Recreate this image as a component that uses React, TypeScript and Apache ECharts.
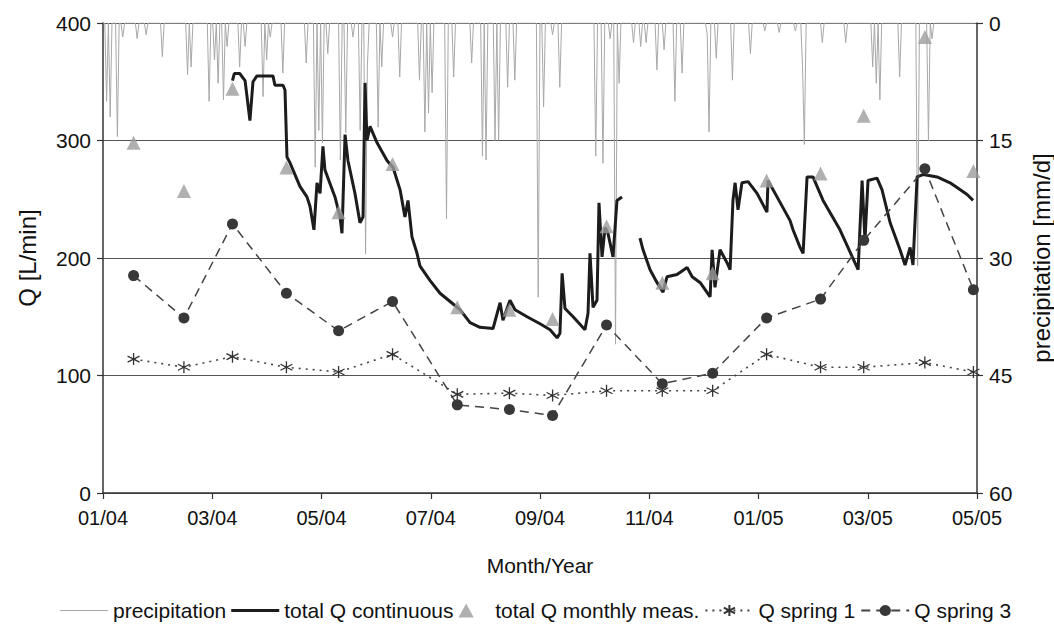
import React, { useEffect, useRef } from 'react';
import * as echarts from 'echarts';

// x values are days counted from 01 Jan 2004; the axis spans 16 months (01/04 .. 05/05)
const DAYS_TOTAL = 486;
const TICK_STEP = DAYS_TOTAL / 8;
const TICK_LABELS = ['01/04', '03/04', '05/04', '07/04', '09/04', '11/04', '01/05', '03/05', '05/05'];

// daily precipitation [mm/d]: days with rain (all other days 0)
const RAIN_DAY = [2, 4, 8, 11, 19, 24, 33, 47, 49, 59, 62, 64, 67, 69, 76, 79, 89, 91, 93, 100, 113, 118, 120, 122, 125, 132, 135, 139, 143, 146, 147, 153, 155, 161, 165, 176, 179, 181, 183, 191, 195, 205, 211, 213, 218, 220, 225, 229, 242, 245, 250, 254, 274, 278, 282, 285, 287, 295, 299, 302, 308, 312, 318, 322, 336, 337, 341, 350, 360, 368, 376, 385, 389, 390, 400, 413, 428, 430, 432, 443, 453, 459, 461];
const RAIN_MM = [10, 12, 14.5, 1.8, 2, 1.5, 4.3, 6.6, 5.6, 10, 4.7, 7.7, 9.8, 3, 5.6, 3, 9.4, 4.7, 1.8, 6.4, 5.1, 18.4, 13.7, 15.3, 3.9, 17.5, 14, 1.8, 13.7, 29.5, 5.6, 13.3, 5.6, 1.8, 6.9, 7.3, 13.9, 11.5, 8.9, 25, 6.9, 5.1, 17, 17.5, 15, 15, 8.2, 7.3, 35, 10.7, 1.5, 8.2, 17, 17.9, 2, 41, 7.7, 2.5, 3, 2.5, 6, 3.4, 10, 6.4, 1.5, 13.9, 4.5, 7.3, 3.9, 1, 1.2, 1, 5.6, 15.5, 2.5, 2.5, 5.6, 7.7, 9.8, 6.9, 31, 15, 2];

// total Q continuous [L/min], two logged periods
const QC_DAY_A = [72, 73, 76, 79, 81.7, 83.4, 85.6, 94.5, 95.6, 100.1, 101.2, 102.3, 104, 109.5, 113.4, 115.1, 117.3, 119, 120.7, 122.3, 123.4, 129, 131.8, 132.9, 134.6, 136.2, 140.1, 142.9, 144.6, 145.7, 146.8, 148.5, 152.4, 157.9, 161.3, 165.2, 167.9, 169.6, 171.8, 174.6, 176.3, 181.8, 187.4, 193, 198.5, 204.1, 209.6, 216.9, 220.8, 222.4, 226.3, 229.1, 235.8, 243, 248.6, 252.5, 254.1, 255.3, 256.9, 261.4, 268, 269.7, 270.8, 272.5, 274.7, 275.8, 277.5, 279.2, 280.8, 283.6, 285.8, 288.6];
const QC_VAL_A = [351, 357, 357, 351, 317, 350, 355, 355, 347, 347, 343, 286, 281, 261, 252, 244, 224, 264, 255, 295, 275, 252, 235, 221, 305, 283, 255, 230, 235, 349, 300, 312, 298, 283, 277, 258, 235, 249, 218, 204, 193, 181, 170, 163, 156, 145, 141, 140, 162, 147, 164, 156, 150, 144, 139, 132, 136, 187, 157, 150, 139, 153, 204, 158, 164, 247, 201, 226, 221, 201, 249, 252];
const QC_DAY_B = [298.6, 300.3, 304.2, 308.1, 311.4, 313.6, 319.2, 324.8, 327.6, 332.1, 337.6, 338.7, 340.3, 343.1, 347, 348.7, 350.3, 351.5, 353.1, 355.3, 358.7, 363.7, 369.2, 369.8, 374.8, 382, 383.7, 387.6, 389.3, 391.5, 394.8, 400.4, 409.8, 419.9, 422.1, 423.7, 425.4, 430.4, 433.2, 437.7, 443.2, 446, 448.8, 450.4, 452.7, 456, 463.8, 471, 474.9, 480.5, 483.8];
const QC_VAL_B = [217, 207, 190, 179, 171, 184, 186, 192, 184, 179, 167, 207, 175, 207, 196, 190, 249, 264, 241, 264, 265, 255, 239, 266, 252, 232, 224, 209, 204, 269, 269, 249, 224, 190, 266, 215, 266, 268, 258, 230, 207, 194, 209, 194, 269, 271, 269, 264, 260, 254, 249];

// monthly measurements
const MEAS_DAY = [17, 45, 72, 102, 131, 161, 197, 226, 250, 280, 311, 339, 369, 399, 423, 457, 484];
const Q_TOTAL_MEAS = [298, 257, 344, 277, 239, 280, 158, 156, 148, 227, 179, 187, 266, 272, 321, 388, 274];
const Q_SPRING_1 = [114, 107, 116, 107, 103, 118, 84, 85, 83, 87, 87, 87, 118, 107, 107, 111, 103];
const Q_SPRING_3 = [185, 149, 229, 170, 138, 163, 75, 71, 66, 143, 93, 102, 149, 165, 215, 276, 173];

const FONT = 'Arial, "Liberation Sans", Helvetica, sans-serif';
const ASTERISK = 'path://M5,0 L5,10 M0.67,2.5 L9.33,7.5 M0.67,7.5 L9.33,2.5';

export default function App() {
  const ref = useRef<HTMLDivElement>(null);

  useEffect(() => {
    const el = ref.current;
    if (!el) return;
    const chart = echarts.init(el, null, { renderer: 'svg' });

    const rainMap = new Map<number, number>();
    RAIN_DAY.forEach((d, i) => rainMap.set(d, RAIN_MM[i]));
    const precip: number[][] = [];
    for (let d = 0; d < DAYS_TOTAL; d++) precip.push([d, rainMap.get(d) ?? 0]);

    const zip = (xs: number[], ys: number[]) => xs.map((x, i) => [x, ys[i]]);

    const axisCommon = {
      axisLine: { show: true, lineStyle: { color: '#333', width: 1.5 } },
      axisTick: { show: true, length: 6, lineStyle: { color: '#333', width: 1.2 } },
      axisLabel: { color: '#111', fontSize: 21, fontFamily: FONT },
      nameTextStyle: { color: '#111', fontSize: 24, fontFamily: FONT },
    };

    chart.setOption({
      animation: false,
      backgroundColor: '#fff',
      grid: { left: 103, right: 77, top: 23, bottom: 139, containLabel: false, outerBoundsMode: 'none' },
      legend: {
        bottom: 6,
        left: 55,
        itemWidth: 48,
        itemHeight: 14,
        itemGap: 5,
        textStyle: { color: '#111', fontSize: 21, fontFamily: FONT },
        data: [
          { name: 'precipitation', icon: 'path://M0,0 H48 V1.2 H0 Z' },
          { name: 'total Q continuous', icon: 'path://M0,0 H48 V3 H0 Z' },
          { name: 'total Q monthly meas.', icon: 'path://M6,0 L12,11 L0,11 Z' },
          { name: 'Q spring 1' },
          { name: 'Q spring 3' },
        ],
      },
      xAxis: {
        type: 'value',
        min: 0,
        max: DAYS_TOTAL,
        interval: TICK_STEP,
        name: 'Month/Year',
        nameLocation: 'middle',
        nameGap: 62,
        ...axisCommon,
        nameTextStyle: { ...axisCommon.nameTextStyle, fontSize: 21 },
        axisLabel: {
          ...axisCommon.axisLabel,
          fontSize: 20,
          margin: 15,
          formatter: (v: number) => TICK_LABELS[Math.round(v / TICK_STEP)] ?? '',
        },
        splitLine: { show: false },
      },
      yAxis: [
        {
          type: 'value',
          min: 0,
          max: 400,
          interval: 100,
          name: 'Q [L/min]',
          nameLocation: 'middle',
          nameGap: 64,
          nameRotate: 90,
          ...axisCommon,
          axisLabel: { ...axisCommon.axisLabel, margin: 12 },
          splitLine: { show: true, lineStyle: { color: '#555', width: 1.2 } },
        },
        {
          type: 'value',
          min: 0,
          max: 60,
          interval: 15,
          inverse: true,
          position: 'right',
          name: 'precipitation [mm/d]',
          nameLocation: 'middle',
          nameGap: 52,
          nameRotate: 90,
          ...axisCommon,
          axisLabel: { ...axisCommon.axisLabel, margin: 12 },
          splitLine: { show: false },
        },
      ],
      series: [
        {
          name: 'precipitation',
          type: 'line',
          yAxisIndex: 1,
          data: precip,
          symbol: 'none',
          showSymbol: false,
          lineStyle: { color: '#a8a8a8', width: 1 },
          itemStyle: { color: '#a8a8a8' },
          z: 1,
        },
        {
          name: 'total Q continuous',
          type: 'line',
          data: zip(QC_DAY_A, QC_VAL_A),
          symbol: 'none',
          showSymbol: false,
          lineStyle: { color: '#1c1c1c', width: 3 },
          itemStyle: { color: '#1c1c1c' },
          z: 3,
        },
        {
          name: 'total Q continuous',
          type: 'line',
          data: zip(QC_DAY_B, QC_VAL_B),
          symbol: 'none',
          showSymbol: false,
          lineStyle: { color: '#1c1c1c', width: 3 },
          itemStyle: { color: '#1c1c1c' },
          z: 3,
        },
        {
          name: 'total Q monthly meas.',
          type: 'scatter',
          data: zip(MEAS_DAY, Q_TOTAL_MEAS),
          symbol: 'triangle',
          symbolSize: 14,
          itemStyle: { color: '#9c9c9c' },
          z: 5,
        },
        {
          name: 'Q spring 1',
          type: 'line',
          data: zip(MEAS_DAY, Q_SPRING_1),
          symbol: ASTERISK,
          symbolSize: 12,
          itemStyle: { color: '#333', borderColor: '#333', borderWidth: 1.3 },
          lineStyle: { color: '#444', width: 1.6, type: [2, 5] },
          z: 4,
        },
        {
          name: 'Q spring 3',
          type: 'line',
          data: zip(MEAS_DAY, Q_SPRING_3),
          symbol: 'circle',
          symbolSize: 11,
          itemStyle: { color: '#383838' },
          lineStyle: { color: '#444', width: 1.5, type: [9, 6] },
          z: 4,
        },
      ],
    });

    return () => chart.dispose();
  }, []);

  return (
    <div
      ref={ref}
      style={{ position: 'fixed', left: 0, top: 0, width: 1054, height: 632, background: '#fff' }}
    />
  );
}
